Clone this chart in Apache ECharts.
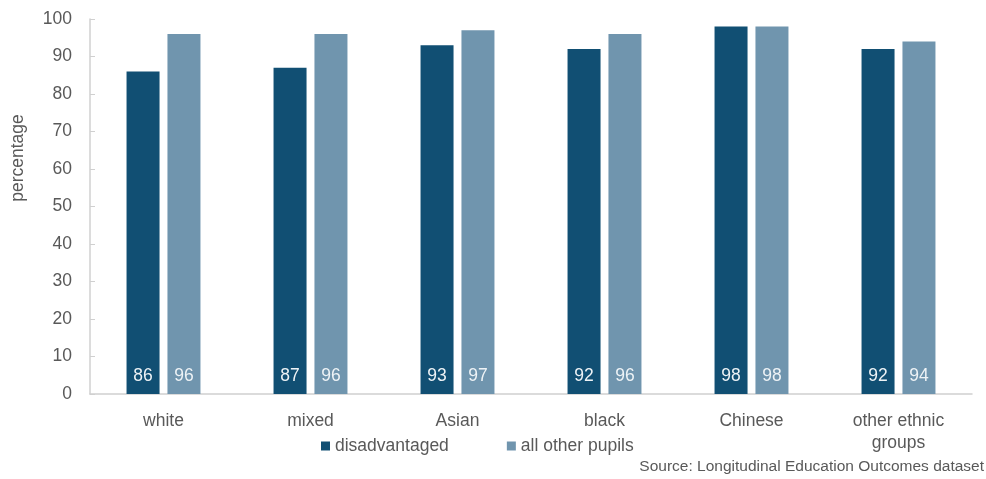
<!DOCTYPE html>
<html>
<head>
<meta charset="utf-8">
<script src="https://cdn.jsdelivr.net/npm/echarts@6/dist/echarts.min.js"></script>
<style>
  html, body { margin: 0; padding: 0; background: #fff; }
  #chart { width: 986px; height: 479px; }
</style>
</head>
<body>
<div id="chart"></div>
<script>
// Pupil groups along the x axis
const categories = ['white', 'mixed', 'Asian', 'black', 'Chinese', 'other ethnic\ngroups'];
// Percentage for each group
const disadvantaged = [86, 87, 93, 92, 98, 92];
const allOtherPupils = [96, 96, 97, 96, 98, 94];
const yTicks = [0, 10, 20, 30, 40, 50, 60, 70, 80, 90, 100];

const FONT = 'Liberation Sans';
const TEXT = '#595959';
const SIZE = 17.5;

const chart = echarts.init(document.getElementById('chart'));

const barLabel = {
  show: true,
  position: 'insideBottom',
  distance: 9,
  color: '#eef3f6',
  fontSize: SIZE,
  fontFamily: FONT
};

chart.setOption({
  animation: false,
  grid: { left: 90, right: 14, top: 19, bottom: 85 },
  legend: {
    data: ['disadvantaged', 'all other pupils'],
    left: 316,
    top: 432,
    itemWidth: 9,
    itemHeight: 9,
    itemGap: 58,
    icon: 'rect',
    textStyle: { color: TEXT, fontSize: SIZE, fontFamily: FONT }
  },
  xAxis: {
    type: 'category',
    data: categories,
    axisLine: { lineStyle: { color: '#d0d0d0', width: 1.5 } },
    axisTick: { show: false },
    axisLabel: { color: TEXT, fontSize: SIZE, fontFamily: FONT, margin: 16, lineHeight: 22 }
  },
  yAxis: {
    type: 'value',
    min: yTicks[0],
    max: yTicks[yTicks.length - 1],
    interval: 10,
    axisLine: { show: true, lineStyle: { color: '#d0d0d0', width: 1.5 } },
    axisTick: { show: true, inside: true, length: 5, lineStyle: { color: '#d0d0d0' } },
    splitLine: { show: false },
    axisLabel: { color: TEXT, fontSize: SIZE, fontFamily: FONT, margin: 18 }
  },
  series: [
    {
      name: 'disadvantaged',
      type: 'bar',
      data: disadvantaged,
      barWidth: 33,
      barGap: '24%',
      itemStyle: { color: '#114f73' },
      label: barLabel
    },
    {
      name: 'all other pupils',
      type: 'bar',
      data: allOtherPupils,
      barWidth: 33,
      itemStyle: { color: '#7095ae' },
      label: barLabel
    }
  ],
  graphic: [
    {
      type: 'text',
      x: 9,
      y: 158,
      rotation: Math.PI / 2,
      style: {
        text: 'percentage',
        fill: TEXT,
        fontSize: SIZE,
        fontFamily: FONT,
        align: 'center',
        verticalAlign: 'top'
      }
    },
    {
      type: 'text',
      right: 2,
      top: 459,
      style: {
        text: 'Source: Longitudinal Education Outcomes dataset',
        fill: TEXT,
        fontSize: 15.5,
        fontFamily: FONT
      }
    }
  ]
});
</script>
</body>
</html>
